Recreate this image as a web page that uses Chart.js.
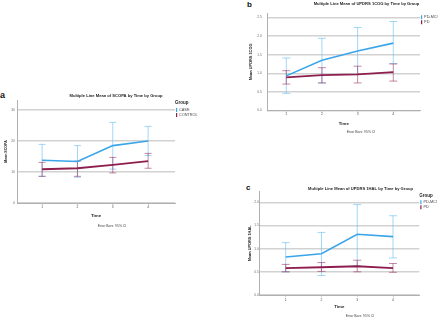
<!DOCTYPE html>
<html>
<head>
<meta charset="utf-8">
<script src="https://cdn.jsdelivr.net/npm/chart.js@4.4.1/dist/chart.umd.min.js"></script>
<style>
  body { margin: 0; width: 440px; height: 319px; overflow: hidden; background: #fff; position: relative;
         font-family: "Liberation Sans", Arial, sans-serif; }
  .panel { position: absolute; }
  .tag { position: absolute; font-weight: bold; line-height: 1; color: #111; }
</style>
</head>
<body>
<div class="tag" style="left:0px;top:90.8px;font-size:9px">a</div>
<div class="tag" style="left:247px;top:0.7px;font-size:8px">b</div>
<div class="tag" style="left:246px;top:184px;font-size:8px">c</div>

<div class="panel" style="left:0px;top:88px"><canvas id="chartA" width="200" height="144"></canvas></div>
<div class="panel" style="left:246px;top:0px"><canvas id="chartB" width="194" height="137"></canvas></div>
<div class="panel" style="left:247px;top:183px"><canvas id="chartC" width="193" height="136"></canvas></div>

<script>
// time points shared by all three panels
const timePoints = [1, 2, 3, 4];

// panel a: SCOPA
const scopaGroups = ["CASE", "CONTROL"];
const scopaTicks = [0, 10, 20, 30];
const scopaTickLabels = ["0", "10", "20", "30"];
const scopaCase = [13.8, 13.4, 18.5, 20.0];
const scopaCaseLow = [8.6, 8.3, 10.9, 15.3];
const scopaCaseHigh = [18.9, 18.5, 26.0, 24.7];
const scopaControl = [10.9, 11.2, 12.3, 13.5];
const scopaControlLow = [8.6, 8.6, 9.7, 11.2];
const scopaControlHigh = [13.1, 13.5, 14.7, 16.0];

// panel b: UPDRS 1COG
const cogGroups = ["PD-MCI", "PD"];
const cogTicks = [0, 0.5, 1, 1.5, 2, 2.5];
const cogTickLabels = ["0.0", "0.5", "1.0", "1.5", "2.0", "2.5"];
const cogMci = [0.93, 1.35, 1.60, 1.81];
const cogMciLow = [0.46, 0.74, 0.97, 1.26];
const cogMciHigh = [1.41, 1.94, 2.23, 2.39];
const cogPd = [0.89, 0.95, 0.97, 1.03];
const cogPdLow = [0.71, 0.74, 0.74, 0.79];
const cogPdHigh = [1.07, 1.15, 1.19, 1.25];

// panel c: UPDRS 1HAL
const halGroups = ["PD-MCI", "PD"];
const halTicks = [0, 0.5, 1, 1.5, 2];
const halTickLabels = ["0.0", "0.5", "1.0", "1.5", "2.0"];
const halMci = [0.82, 0.89, 1.31, 1.26];
const halMciLow = [0.50, 0.42, 0.63, 0.80];
const halMciHigh = [1.13, 1.35, 1.95, 1.71];
const halPd = [0.58, 0.60, 0.62, 0.58];
const halPdLow = [0.50, 0.51, 0.50, 0.49];
const halPdHigh = [0.66, 0.70, 0.75, 0.68];

const lineColors = ["rgb(58,165,233)", "rgb(142,30,78)"];
const errColors = ["rgba(100,188,240,0.6)", "rgba(150,40,90,0.55)"];

Chart.defaults.font.family = "'Liberation Sans', Arial, sans-serif";
Chart.defaults.color = "#444";

// 95% CI whiskers, placed with the chart's own scales
const errorBars = {
  id: "errorBars",
  beforeDatasetsDraw(chart, args, opts) {
    const { ctx, scales: { x, y } } = chart;
    ctx.save();
    chart.data.datasets.forEach((ds) => {
      ctx.strokeStyle = ds.errorColor;
      ctx.lineWidth = 1;
      ds.data.forEach((pt, j) => {
        const px = x.getPixelForValue(pt.x);
        const top = y.getPixelForValue(ds.high[j]);
        const bot = y.getPixelForValue(ds.low[j]);
        const half = opts.cap / 2;
        ctx.beginPath();
        ctx.moveTo(px, top); ctx.lineTo(px, bot);
        ctx.moveTo(px - half, top); ctx.lineTo(px + half, top);
        ctx.moveTo(px - half, bot); ctx.lineTo(px + half, bot);
        ctx.stroke();
      });
    });
    ctx.restore();
  }
};

// SPSS puts the title a bit right of centre
const shiftTitles = {
  id: "shiftTitles",
  afterLayout(chart, args, opts) {
    chart.boxes.forEach((box) => {
      let dx = 0;
      if (box.weight === 2000) dx = opts.title;
      if (box.weight === 1500) dx = opts.subtitle;
      if (dx) { box.left += dx; box.right += dx; }
    });
  }
};

function makeChart(id, s) {
  const datasets = s.series.map((ser, i) => ({
    label: ser.label,
    data: timePoints.map((t, j) => ({ x: t, y: ser.mean[j] })),
    low: ser.low,
    high: ser.high,
    errorColor: errColors[i],
    borderColor: lineColors[i],
    backgroundColor: lineColors[i],
    borderWidth: i === 0 ? 1.6 : 1.9,
    pointRadius: 0,
    tension: 0
  }));

  return new Chart(document.getElementById(id), {
    type: "line",
    data: { datasets },
    plugins: [errorBars, shiftTitles],
    options: {
      responsive: false,
      animation: false,
      devicePixelRatio: 1,
      layout: { padding: s.pad },
      scales: {
        x: {
          type: "linear",
          min: s.xMin,
          max: s.xMax,
          afterBuildTicks: (sc) => { sc.ticks = timePoints.map((v) => ({ value: v })); },
          afterFit: (sc) => { sc.height = s.xHeight; },
          grid: { drawOnChartArea: false, tickLength: 2, color: "#d0d0d0" },
          border: { color: "#b0b0b0", width: 1 },
          ticks: { padding: s.xTickPad, autoSkip: false, maxRotation: 0, color: "#555", font: { size: 3.4 } },
          title: { display: true, text: "Time", color: "#222", font: { size: 4.4, weight: "bold" },
                   padding: { top: 0, bottom: 1.36 } }
        },
        y: {
          min: 0,
          max: s.yMax,
          afterBuildTicks: (sc) => { sc.ticks = s.yTicks.map((v) => ({ value: v })); },
          afterFit: (sc) => { sc.width = s.yWidth; },
          grid: { color: "#d2d2d2", lineWidth: 1.4, drawTicks: false },
          border: { color: "#b0b0b0", width: 1 },
          ticks: { padding: s.yTickPad, color: "#666", font: { size: 3.2 },
                   callback: (v) => s.yTickLabels[s.yTicks.indexOf(v)] },
          title: { display: true, text: s.yTitle, color: "#222", font: { size: s.yTitleSize, weight: "bold" },
                   padding: { top: s.yTitlePad, bottom: 0 } }
        }
      },
      plugins: {
        title: { display: true, text: s.title, color: "#222", font: { size: 4.1, weight: "bold" },
                 padding: s.titlePad },
        subtitle: { display: true, position: "bottom", text: "Error Bars: 95% CI", color: "#444",
                    font: { size: 3.4 }, padding: s.subPad },
        legend: {
          position: "right",
          align: "start",
          fullSize: false,
          maxWidth: s.legendWidth,
          title: { display: true, text: "Group", position: "start", color: "#222",
                   font: { size: 4.5, weight: "bold" }, padding: s.legendTitlePad },
          labels: {
            boxWidth: 1.2, boxHeight: 4, padding: 1, color: "#444", font: { size: 3.8 },
            generateLabels: (chart) => Chart.defaults.plugins.legend.labels.generateLabels(chart)
              .map((it) => Object.assign(it, { lineWidth: 0, fillStyle: chart.data.datasets[it.datasetIndex].borderColor }))
          }
        },
        tooltip: { enabled: false },
        errorBars: { cap: s.cap },
        shiftTitles: { title: s.titleShift, subtitle: s.subShift }
      }
    }
  });
}

makeChart("chartA", {
  title: "Multiple Line Mean of SCOPA by Time by Group",
  yTitle: "Mean SCOPA",
  series: [
    { label: scopaGroups[0], mean: scopaCase, low: scopaCaseLow, high: scopaCaseHigh },
    { label: scopaGroups[1], mean: scopaControl, low: scopaControlLow, high: scopaControlHigh }
  ],
  yTicks: scopaTicks, yTickLabels: scopaTickLabels, yMax: 33.2,
  xMin: 0.29, xMax: 4.76,
  pad: { top: 4, left: 0, right: 0, bottom: 3.5 },
  titlePad: { top: 1.5, bottom: 1.6 },
  subPad: { top: 3.96, bottom: 0.46 },
  xHeight: 17, xTickPad: 0,
  yWidth: 17, yTickPad: 2.3, yTitleSize: 3.6, yTitlePad: 3.84,
  legendWidth: 25, legendTitlePad: { top: 0, bottom: 1.6 },
  cap: 7, titleShift: 16, subShift: 12
});

makeChart("chartB", {
  title: "Multiple Line Mean of UPDRS 1COG by Time by Group",
  yTitle: "Mean UPDRS 1COG",
  series: [
    { label: cogGroups[0], mean: cogMci, low: cogMciLow, high: cogMciHigh },
    { label: cogGroups[1], mean: cogPd, low: cogPdLow, high: cogPdHigh }
  ],
  yTicks: cogTicks, yTickLabels: cogTickLabels, yMax: 2.61,
  xMin: 0.479, xMax: 4.749,
  pad: { top: 0, left: 0, right: 0, bottom: 0 },
  titlePad: { top: 1.6, bottom: 6.8 },
  subPad: { top: 2.26, bottom: 2.66 },
  xHeight: 17.5, xTickPad: 0,
  yWidth: 21.7, yTickPad: 6, yTitleSize: 3.9, yTitlePad: 2.66,
  legendWidth: 20, legendTitlePad: { top: -4.55, bottom: 0.15 },
  cap: 8, titleShift: 23.5, subShift: 18
});

makeChart("chartC", {
  title: "Multiple Line Mean of UPDRS 1HAL by Time by Group",
  yTitle: "Mean UPDRS 1HAL",
  series: [
    { label: halGroups[0], mean: halMci, low: halMciLow, high: halMciHigh },
    { label: halGroups[1], mean: halPd, low: halPdLow, high: halPdHigh }
  ],
  yTicks: halTicks, yTickLabels: halTickLabels, yMax: 2.228,
  xMin: 0.262, xMax: 4.735,
  pad: { top: 0, left: 0, right: 0, bottom: 0 },
  titlePad: { top: 2.9, bottom: 0.9 },
  subPad: { top: 2.96, bottom: 0.96 },
  xHeight: 16, xTickPad: 1,
  yWidth: 12.3, yTickPad: 0.5, yTitleSize: 3.9, yTitlePad: 0.66,
  legendWidth: 20.7, legendTitlePad: { top: 1.35, bottom: 0.85 },
  cap: 8, titleShift: 17, subShift: 16.5
});
</script>
</body>
</html>
